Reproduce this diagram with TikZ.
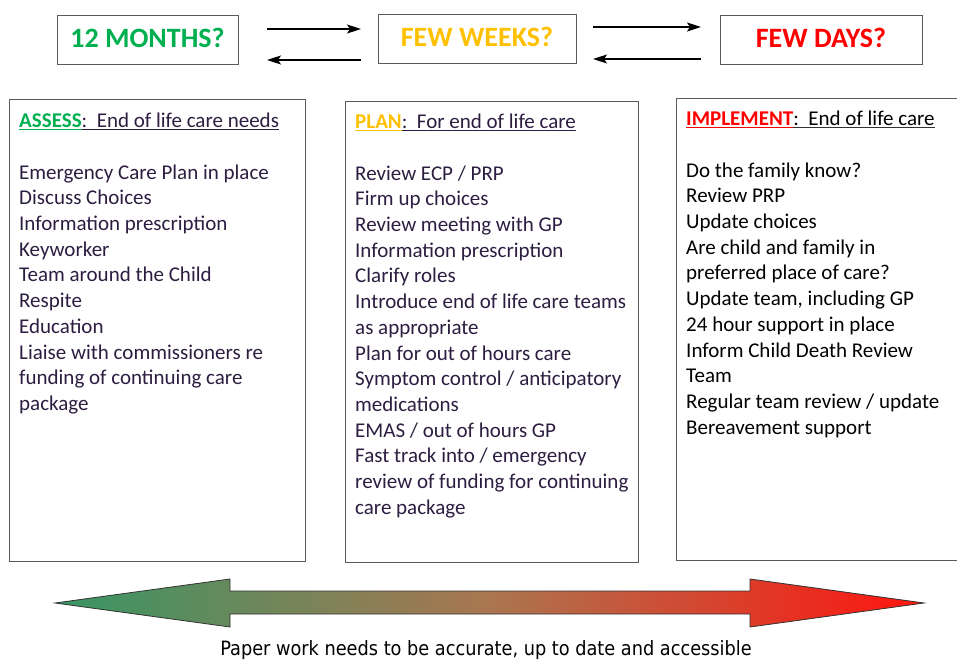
\documentclass[tikz,border=0pt]{standalone}
\usepackage{fontspec}
\setmainfont{Carlito}
\newfontfamily\capfont{DejaVu Sans Condensed}
\usetikzlibrary{arrows.meta,calc}
\definecolor{grn}{HTML}{00B050}
\definecolor{org}{HTML}{FFC000}
\definecolor{rd}{HTML}{FF0000}
\definecolor{txtp}{RGB}{45,30,65}
\definecolor{bordc}{HTML}{5A5A5A}
\definecolor{agreen}{RGB}{55,150,100}
\definecolor{abrown}{RGB}{170,118,80}
\definecolor{ared}{RGB}{255,20,15}
\newcommand\myul[1]{\underline{#1}}
\tikzset{
  topbox/.style={draw=bordc, line width=1pt, inner sep=0pt, text depth=5pt, font=\fontsize{28}{34}\selectfont\bfseries},
  bigbox/.style={draw=bordc, line width=1pt, inner sep=0pt},
  listtext/.style={anchor=north west, align=left, inner sep=0pt, font=\fontsize{21}{25.7}\selectfont},
  linkarrow/.style={line width=1.3pt, -{Stealth[length=14pt,width=9pt,inset=3pt]}},
}
\begin{document}
\begin{tikzpicture}[x=1pt,y=-1pt]
\clip (0,0) rectangle (957,660);
\fill[white] (0,0) rectangle (957,660);

% top boxes
\node[topbox, minimum width=181pt, minimum height=49pt, text=grn] (m12) at (147.5,40.5) {12 MONTHS?};
\node[topbox, minimum width=198pt, minimum height=49pt, text=org] (wks) at (477,39.5) {FEW WEEKS?};
\node[topbox, minimum width=202pt, minimum height=49pt, text=rd] (dys) at (821,40.5) {FEW DAYS?};

% arrow endpoints
\coordinate (a1s) at (267,29); \coordinate (a1e) at (361,29);
\coordinate (a2s) at (361,60); \coordinate (a2e) at (267,60);
\coordinate (b1s) at (593,27); \coordinate (b1e) at (701,27);
\coordinate (b2s) at (701,59); \coordinate (b2e) at (593,59);
\draw[linkarrow] (a1s) -- (a1e);
\draw[linkarrow] (a2s) -- (a2e);
\draw[linkarrow] (b1s) -- (b1e);
\draw[linkarrow] (b2s) -- (b2e);

% big boxes
\node[bigbox, minimum width=296pt, minimum height=461pt] (assess) at (157,330.5) {};
\node[bigbox, minimum width=293pt, minimum height=460pt] (plan) at (491.5,332) {};
\node[bigbox, minimum width=320pt, minimum height=461pt] (impl) at (836,329.5) {};

\node[listtext, text=txtp] (assesst) at (19,113) {%
{\color{grn}\myul{\textbf{ASSESS}}}\myul{:\ \ End of life care needs}\\[25.7pt]
Emergency Care Plan in place\\
Discuss Choices\\
Information prescription\\
Keyworker\\
Team around the Child\\
Respite\\
Education\\
Liaise with commissioners re\\
funding of continuing care\\
package};

\node[listtext, text=txtp] (plant) at (355,114) {%
{\color{org}\myul{\textbf{PLAN}}}\myul{:\ \ For end of life care}\\[25.7pt]
Review ECP / PRP\\
Firm up choices\\
Review meeting with GP\\
Information prescription\\
Clarify roles\\
Introduce end of life care teams\\
as appropriate\\
Plan for out of hours care\\
Symptom control / anticipatory\\
medications\\
EMAS / out of hours GP\\
Fast track into / emergency\\
review of funding for continuing\\
care package};

\node[listtext, text=black] (implt) at (686,111) {%
{\color{rd}\myul{\textbf{IMPLEMENT}}}{\color{black!80}\myul{\color{black}:\ \ End of life care}}\\[25.7pt]
Do the family know?\\
Review PRP\\
Update choices\\
Are child and family in\\
preferred place of care?\\
Update team, including GP\\
24 hour support in place\\
Inform Child Death Review\\
Team\\
Regular team review / update\\
Bereavement support};

% big double arrow
\shade[left color=agreen, right color=ared, middle color=abrown, draw=black!80, line width=0.8pt]
  (55,603) -- (230,579) -- (230,591) -- (750,591) -- (750,579) -- (924,603)
  -- (750,627) -- (750,614) -- (230,614) -- (230,627) -- cycle;

\node[font=\capfont\fontsize{19.7}{23}\selectfont, text=black, inner sep=0pt] (cap) at (486,650)
  {Paper work needs to be accurate, up to date and accessible};
\end{tikzpicture}
\end{document}
